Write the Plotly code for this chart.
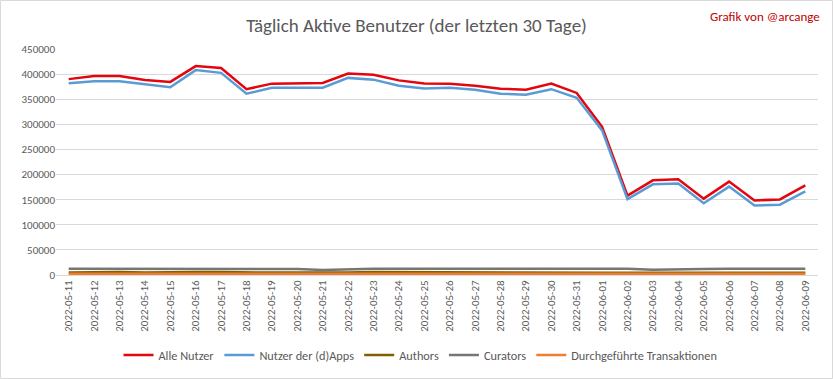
import plotly.graph_objects as go

dates = ["2022-05-11","2022-05-12","2022-05-13","2022-05-14","2022-05-15","2022-05-16",
         "2022-05-17","2022-05-18","2022-05-19","2022-05-20","2022-05-21","2022-05-22",
         "2022-05-23","2022-05-24","2022-05-25","2022-05-26","2022-05-27","2022-05-28",
         "2022-05-29","2022-05-30","2022-05-31","2022-06-01","2022-06-02","2022-06-03",
         "2022-06-04","2022-06-05","2022-06-06","2022-06-07","2022-06-08","2022-06-09"]

alle_nutzer = [390000, 396000, 396000, 388500, 384500, 416000, 412000, 370000, 381000, 381000,
               382500, 401000, 398500, 387500, 381500, 381000, 377000, 371000, 369000, 381000,
               362500, 295000, 158000, 188500, 190500, 152000, 186000, 148500, 150500, 178500]
dapps = [382000, 386000, 386000, 380000, 374000, 408000, 402500, 361000, 373000, 373000,
         373000, 392500, 389000, 377000, 371500, 373000, 369000, 361000, 359000, 370000,
         353000, 288000, 151000, 180500, 182000, 143000, 176000, 138500, 140000, 166500]
authors = [5000, 6000, 6000, 5000, 4800, 6000, 6000, 5000, 4800, 4800,
           4600, 5000, 6000, 6000, 5000, 4800, 4800, 4600, 4800, 6000,
           5000, 4600, 4400, 4400, 4400, 4400, 4600, 5800, 4600, 4600]
curators = [12500, 12500, 12500, 12500, 12500, 12500, 12500, 12500, 12500, 12000,
            10000, 11800, 12500, 12500, 12500, 12500, 12500, 12500, 12500, 12500,
            12500, 12500, 12200, 10500, 10500, 11800, 12500, 12500, 12500, 12500]
transaktionen = [2500, 2500, 2500, 2500, 2500, 2500, 2500, 2500, 2500, 2500,
                 2500, 2500, 2500, 2500, 2500, 2500, 2500, 2500, 2500, 2500,
                 2500, 2500, 2500, 2500, 2500, 2500, 2500, 2500, 2500, 2500]

series = [
    ("Alle Nutzer", alle_nutzer, "#E3060E", 2.5),
    ("Nutzer der (d)Apps", dapps, "#5B9BD5", 2.5),
    ("Authors", authors, "#7F6000", 2.5),
    ("Curators", curators, "#767676", 2.5),
    ("Durchgeführte Transaktionen", transaktionen, "#ED7D31", 2.5),
]

FONT = "Carlito, 'Liberation Sans Narrow', 'Arial Narrow', 'Noto Sans', sans-serif"

fig = go.Figure()
for name, vals, color, w in series:
    fig.add_trace(go.Scatter(x=dates, y=vals, mode="lines", name=name,
                             line=dict(color=color, width=w)))

W, H = 833, 379
L, R, T, B = 56, 15, 49, 104
pw, ph = W - L - R, H - T - B

fig.update_layout(
    width=W, height=H,
    margin=dict(l=L, r=R, t=T, b=B, autoexpand=False),
    paper_bgcolor="white", plot_bgcolor="white",
    font=dict(family=FONT, size=11, color="#595959"),
    title=dict(text="Täglich Aktive Benutzer (der letzten 30 Tage)",
               x=0.5, xanchor="center", xref="container", y=1 - 25.5 / H, yanchor="middle",
               yref="container",
               font=dict(family=FONT, size=19, color="#595959")),
    showlegend=True,
    legend=dict(orientation="h", x=(W / 2 + 4 - L) / pw, xanchor="center",
                y=(T + ph - 355) / ph, yanchor="middle",
                font=dict(family=FONT, size=12.3, color="#595959"),
                traceorder="normal", itemwidth=30, bgcolor="rgba(0,0,0,0)"),
    xaxis=dict(type="category", tickangle=-90, showgrid=False, showline=True,
               linecolor="#D9D9D9", linewidth=1, ticks="", zeroline=False,
               automargin=False,
               tickfont=dict(family=FONT, size=11, color="#595959"),
               range=[-0.5, len(dates) - 0.5]),
    yaxis=dict(range=[0, 450000], dtick=50000, showgrid=True, gridcolor="#D9D9D9",
               gridwidth=1, zeroline=False, showline=False, ticks="", automargin=False,
               tickformat="d", tickfont=dict(family=FONT, size=11, color="#595959")),
    annotations=[dict(text="Grafik von @arcange", xref="paper", yref="paper",
                      x=(822 - L) / pw, y=(T + ph - 16) / ph, xanchor="right", yanchor="middle",
                      showarrow=False, font=dict(family=FONT, size=13, color="#C00000"))],
    shapes=[dict(type="rect", xref="paper", yref="paper",
                 x0=(0.5 - L) / pw, x1=(W - 0.5 - L) / pw,
                 y0=(T + ph - (H - 0.5)) / ph, y1=(T + ph - 0.5) / ph,
                 line=dict(color="#D9D9D9", width=1), layer="below")],
)

fig.write_html("out.html", config={"displayModeBar": False},
               post_script="document.body.style.margin='0';document.body.style.padding='0';")
